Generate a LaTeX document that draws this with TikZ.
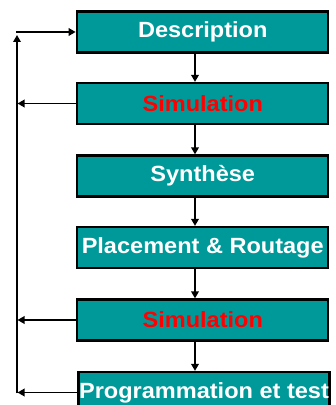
\documentclass[tikz,border=0pt]{standalone}
\usepackage{fontspec}
\setmainfont{Liberation Sans}[FakeStretch=1.07]
\usetikzlibrary{arrows.meta}
\definecolor{stagefill}{RGB}{0,153,153}
\definecolor{simred}{RGB}{255,0,0}
\tikzset{
  stage/.style={draw=black, line width=2.2pt, fill=stagefill, text=white,
    minimum width=251pt, minimum height=41pt, inner sep=0pt,
    font=\fontsize{22}{26}\selectfont\bfseries},
  simstage/.style={stage, text=simred},
  flow/.style={line width=1.8pt, -{Triangle[length=7pt,width=7.5pt]}}
}
\begin{document}
\begin{tikzpicture}[x=1pt,y=1pt]
      \useasboundingbox (0,0) rectangle (336,405);
      \draw
        (202.75,373) node[stage] (desc){Description}
        (202.75,301.5) node[simstage] (sim1){Simulation}
        (202.75,229) node[stage] (synth){Synthèse}
        (202.75,157.5) node[stage] (pr){Placement \& Routage}
        (202.75,85) node[simstage] (sim2){Simulation}
        (204,12.5) node[stage] (prog){Programmation et test};
      \coordinate (spine) at (195,0);
      \coordinate (loop) at (17,0);
      % downward flow
      \begin{scope}[flow]
        \draw (desc.south -| spine) to (sim1.north -| spine);
        \draw (sim1.south -| spine) to (synth.north -| spine);
        \draw (synth.south -| spine) to (pr.north -| spine);
        \draw (pr.south -| spine) to (sim2.north -| spine);
        \draw (sim2.south -| spine) to (prog.north -| spine);
      \end{scope}
      % feedback loop
      \begin{scope}[flow, shorten >=0.5pt]
        \draw (sim1.west) to (sim1.west -| loop);
        \draw (sim2.west) to (sim2.west -| loop);
        \draw (prog.west) to (prog.west -| loop);
        \draw ([yshift=-0.9pt]prog.west -| loop) to ([yshift=-2.5pt]desc.west -| loop);
        \draw ([xshift=-0.9pt]desc.west -| loop) to (desc.west);
      \end{scope}
    \end{tikzpicture}
\end{document}
